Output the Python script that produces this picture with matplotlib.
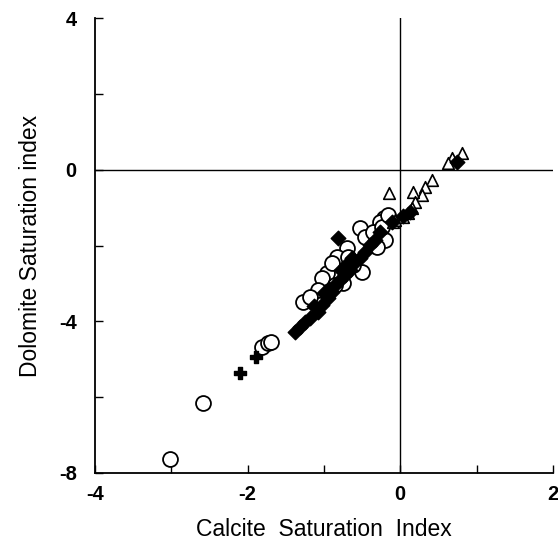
import matplotlib
matplotlib.use('Agg')
import matplotlib.pyplot as plt
from matplotlib.ticker import MultipleLocator

# %% data
circle_x = [-3.02, -2.59, -1.81, -1.73, -1.69, -0.21, -0.27, -0.53, -0.20, -0.46,
            -0.36, -0.31, -0.70, -0.83, -0.50, -0.62, -0.96, -1.03, -0.75, -1.08,
            -0.86, -0.24, -0.16, -1.27, -1.18, -0.90, -0.68]
circle_y = [-7.63, -6.15, -4.68, -4.57, -4.54, -1.27, -1.38, -1.54, -1.85, -1.78,
            -1.64, -2.04, -2.07, -2.30, -2.70, -2.51, -2.72, -2.86, -2.99, -3.17,
            -3.04, -1.51, -1.20, -3.49, -3.36, -2.45, -2.30]

diamond_x = [-0.82, -1.38, -1.31, -1.25, -1.18, -1.08, -1.03, -0.95, -0.90, -0.86,
             -0.79, -0.72, -0.66, -0.59, -0.53, -0.46, -0.40, -0.33, -0.27, -0.11,
             0.04, 0.13, 0.74, -0.93, -0.77, -0.63, -0.69, -1.00, -1.13]
diamond_y = [-1.80, -4.28, -4.15, -4.02, -3.91, -3.75, -3.57, -3.38, -3.23, -3.04,
             -2.91, -2.78, -2.65, -2.43, -2.33, -2.17, -1.99, -1.85, -1.64, -1.38,
             -1.22, -1.12, 0.20, -3.15, -2.65, -2.33, -2.45, -3.25, -3.60]

triangle_x = [-0.15, -0.10, 0.81, 0.68, 0.62, 0.41, 0.32, 0.28, 0.17, 0.19,
              0.15, 0.10, 0.04, -0.07]
triangle_y = [-0.61, -1.38, 0.44, 0.31, 0.18, -0.27, -0.46, -0.67, -0.59, -0.85,
              -1.01, -1.14, -1.25, -1.33]

cross_x = [-1.89, -2.10]
cross_y = [-4.94, -5.36]

x_ticks = [-4, -2, 0, 2]
y_ticks = [-8, -4, 0, 4]

# %% font
plt.rcParams['font.family'] = ['Liberation Sans', 'DejaVu Sans']
plt.rcParams['axes.unicode_minus'] = False

# %% figure
fig = plt.figure(figsize=(5.58, 5.5), dpi=100)
ax = fig.add_axes([0.170, 0.140, 0.821, 0.827])

# --+ reference lines
ax.axhline(0, color='black', lw=1.0, zorder=1)
ax.axvline(0, color='black', lw=1.0, zorder=1)

# --+ markers
ax.scatter(circle_x, circle_y, s=115, marker='o', facecolors='white',
           edgecolors='black', linewidths=1.3, zorder=3)
ax.scatter(diamond_x, diamond_y, s=55, marker='D', color='black', zorder=4)
ax.scatter(triangle_x, triangle_y, s=70, marker='^', facecolors='white',
           edgecolors='black', linewidths=1.2, zorder=3)
ax.scatter(cross_x, cross_y, s=80, marker='P', color='black', zorder=4)

# --+ axis properties
ax.set_xlim(-4, 2)
ax.set_ylim(-8, 4)
ax.set_xticks(x_ticks)
ax.set_yticks(y_ticks)
ax.xaxis.set_minor_locator(MultipleLocator(1))
ax.yaxis.set_minor_locator(MultipleLocator(2))
ax.tick_params(which='both', direction='in', length=6, width=1.0)
ax.tick_params(axis='x', pad=9)
ax.tick_params(axis='y', pad=13)
for lab in ax.get_xticklabels() + ax.get_yticklabels():
    lab.set_fontsize(14.5)
    lab.set_fontweight('bold')
ax.spines['top'].set_visible(False)
ax.spines['right'].set_visible(False)
ax.spines['left'].set_linewidth(1.3)
ax.spines['bottom'].set_linewidth(1.3)

ax.set_xlabel('Calcite  Saturation  Index', fontsize=16.5, labelpad=10)
ax.set_ylabel('Dolomite Saturation index', fontsize=16.5, labelpad=12)

plt.savefig('out.png', dpi=100)
